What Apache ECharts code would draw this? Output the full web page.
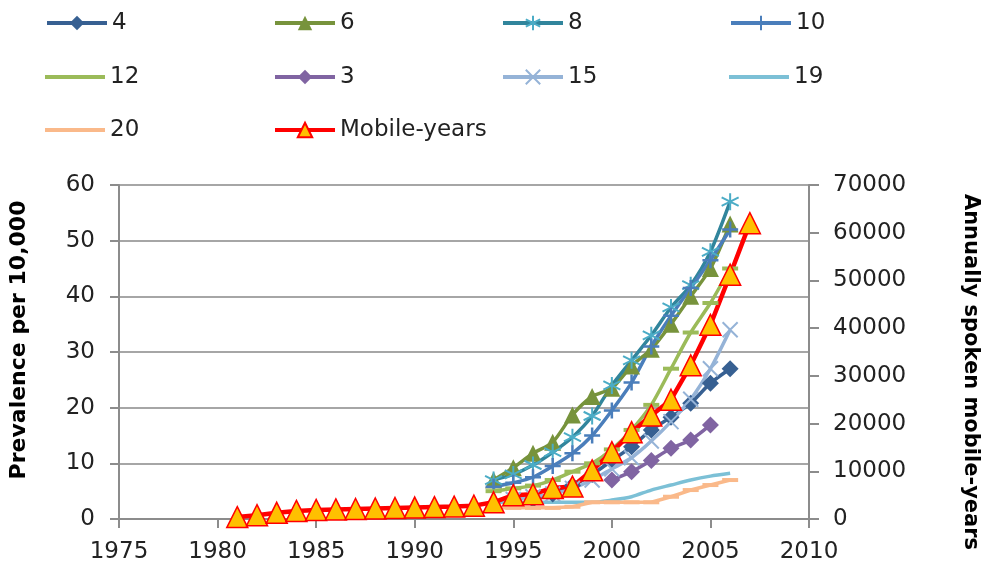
<!DOCTYPE html>
<html><head><meta charset="utf-8">
<script src="https://cdn.jsdelivr.net/npm/echarts@6/dist/echarts.min.js"></script>
<style>html,body{margin:0;padding:0;background:#fff}#c{width:989px;height:579px}</style>
</head><body><div id="c"></div>
<script>
// ---- data ----
const seriesNames = ['4','6','8','10','12','3','15','19','20','Mobile-years'];
const years94to06 = [1994,1995,1996,1997,1998,1999,2000,2001,2002,2003,2004,2005,2006];
const years96to06 = [1996,1997,1998,1999,2000,2001,2002,2003,2004,2005,2006];
const years95to06 = [1995,1996,1997,1998,1999,2000,2001,2002,2003,2004,2005,2006];
const years00to05 = [2000,2001,2002,2003,2004,2005];
const years81to07 = [1981,1982,1983,1984,1985,1986,1987,1988,1989,1990,1991,1992,1993,1994,1995,1996,1997,1998,1999,2000,2001,2002,2003,2004,2005,2006,2007];

const s4  = [3.5,4.5,6,8,10.5,13,16,18.3,20.8,24.4,27];
const s6  = [7,9.2,11.8,13.8,18.7,22,23.5,27.5,30.5,35,40,45,53];
const s8  = [7,8,9.7,12,14.7,18.5,24,28.5,33,38,42,48,57];
const s10 = [5.8,6.5,7.5,9.5,11.8,15,19.5,24.5,31,36.5,41.5,46.5,52];
const s12 = [5,5.5,6,7,8.5,10,12.5,16,20.5,27,33.5,38.8,45];
const s3  = [7,8.5,10.5,12.7,14.2,16.9];
const s15 = [3.5,4,4.5,5.5,7,9,11,14,17.5,21.5,27,34];
const s19 = [3,3,3,3,3,3,3.4,4,5.2,6.1,7,7.7,8.2];
const s20 = [2,2,2,2,2.2,3,3,3,3,4,5.2,6.1,7];
const mobileYears = [400,800,1300,1700,1900,2000,2100,2200,2300,2400,2500,2600,2800,3500,5000,5200,6500,6800,10200,14000,18200,21700,25000,32200,40700,51200,62000];

const leftTicks = {min:0, max:60, interval:10};
const rightTicks = {min:0, max:70000, interval:10000};
const xTicks = {min:1975, max:2010, interval:5};
const lineOnlyLegend = ['12','19','20'];

function pairs(xs, ys){ return xs.map((x,i)=>[x, ys[i]]); }

const FONT = 'DejaVu Sans';
const ASTER = 'path://M0,-1L0,1M-0.87,-0.5L0.87,0.5M-0.87,0.5L0.87,-0.5';
const PLUS = 'path://M0,-1L0,1M-1,0L1,0';
const XMARK = 'path://M-1,-1L1,1M-1,1L1,-1';

function mk(name, xs, ys, color, opts){
  return Object.assign({
    name, type:'line', data:pairs(xs,ys), yAxisIndex:0,
    lineStyle:{width:3.5, color}, itemStyle:{color},
    symbol:'none', smooth:0.25
  }, opts||{});
}

const series = [
  mk('4', years96to06, s4, '#376092', {symbol:'diamond', symbolSize:17}),
  mk('6', years94to06, s6, '#77933C', {symbol:'triangle', symbolSize:17}),
  mk('8', years94to06, s8, '#31859C', {symbol:ASTER, symbolSize:17, itemStyle:{color:'#4BACC6', borderColor:'#4BACC6', borderWidth:2}}),
  mk('10', years94to06, s10, '#4A7EBB', {symbol:PLUS, symbolSize:16, itemStyle:{color:'#4A7EBB', borderColor:'#4A7EBB', borderWidth:2.5}}),
  mk('12', years94to06, s12, '#9BBB59', {symbol:'rect', symbolSize:[16,4]}),
  mk('3', years00to05, s3, '#8064A2', {symbol:'diamond', symbolSize:17}),
  mk('15', years95to06, s15, '#95B3D7', {symbol:XMARK, symbolSize:15, itemStyle:{color:'#95B3D7', borderColor:'#95B3D7', borderWidth:2}}),
  mk('19', years94to06, s19, '#7CC0D6', {}),
  mk('20', years94to06, s20, '#FAB98A', {symbol:'rect', symbolSize:[16,4], smooth:false}),
  {name:'Mobile-years', type:'line', yAxisIndex:1, data:pairs(years81to07, mobileYears),
   symbol:'triangle', symbolSize:21, lineStyle:{width:4.5, color:'#FF0000'},
   itemStyle:{color:'#FFC000', borderColor:'#FF0000', borderWidth:1.5}}
];

const colX = [45, 273, 501, 729];
const rowY = [23, 77, 130];
const legends = seriesNames.map((n,i)=>{
  const lineOnly = lineOnlyLegend.includes(n);
  return {
    data:[lineOnly ? {name:n, icon:'rect'} : n],
    left: colX[i%4], top: rowY[Math.floor(i/4)] - 12,
    itemWidth:60, itemHeight: lineOnly ? 4 : 18, itemGap:0, padding:0,
    lineStyle:{width:4},
    textStyle:{fontSize:23, fontFamily:FONT, color:'#222', height:24, lineHeight:24}
  };
});

const axisGray = '#8c8c8c';
const plain = v => String(v);
const chart = echarts.init(document.getElementById('c'), null, {renderer:'canvas'});
chart.setOption({
  animation:false,
  backgroundColor:'#fff',
  legend: legends,
  grid:{left:114, right:162, top:185, bottom:60, containLabel:false},
  xAxis:{type:'value', min:xTicks.min, max:xTicks.max, interval:xTicks.interval,
    axisLine:{show:true, onZero:false, lineStyle:{color:axisGray, width:2}},
    axisTick:{show:true, length:9, lineStyle:{color:axisGray, width:2}},
    splitLine:{show:false},
    axisLabel:{fontSize:23, fontFamily:FONT, color:'#222', margin:22, formatter:plain}},
  yAxis:[
    {type:'value', min:leftTicks.min, max:leftTicks.max, interval:leftTicks.interval,
     name:'Prevalence per 10,000', nameLocation:'middle', nameGap:89, nameRotate:90,
     nameTextStyle:{fontSize:22, fontWeight:'bold', fontFamily:FONT, color:'#000', padding:[0,0,0,24]},
     axisLine:{show:true, lineStyle:{color:axisGray, width:2}},
     axisTick:{show:true, length:9, lineStyle:{color:axisGray, width:2}},
     splitLine:{show:true, lineStyle:{color:'#A6A6A6', width:2}},
     axisLabel:{fontSize:23, fontFamily:FONT, color:'#222', margin:24, formatter:plain}},
    {type:'value', position:'right', min:rightTicks.min, max:rightTicks.max, interval:rightTicks.interval,
     name:'Annually spoken mobile-years', nameLocation:'middle', nameGap:151, nameRotate:-90,
     nameTextStyle:{fontSize:21, fontWeight:'bold', fontFamily:FONT, color:'#000', padding:[0,0,0,40]},
     axisLine:{show:true, lineStyle:{color:axisGray, width:2}},
     axisTick:{show:true, length:10, lineStyle:{color:axisGray, width:2}},
     splitLine:{show:false},
     axisLabel:{fontSize:23, fontFamily:FONT, color:'#222', margin:24, formatter:plain}}
  ],
  series
});
</script></body></html>
